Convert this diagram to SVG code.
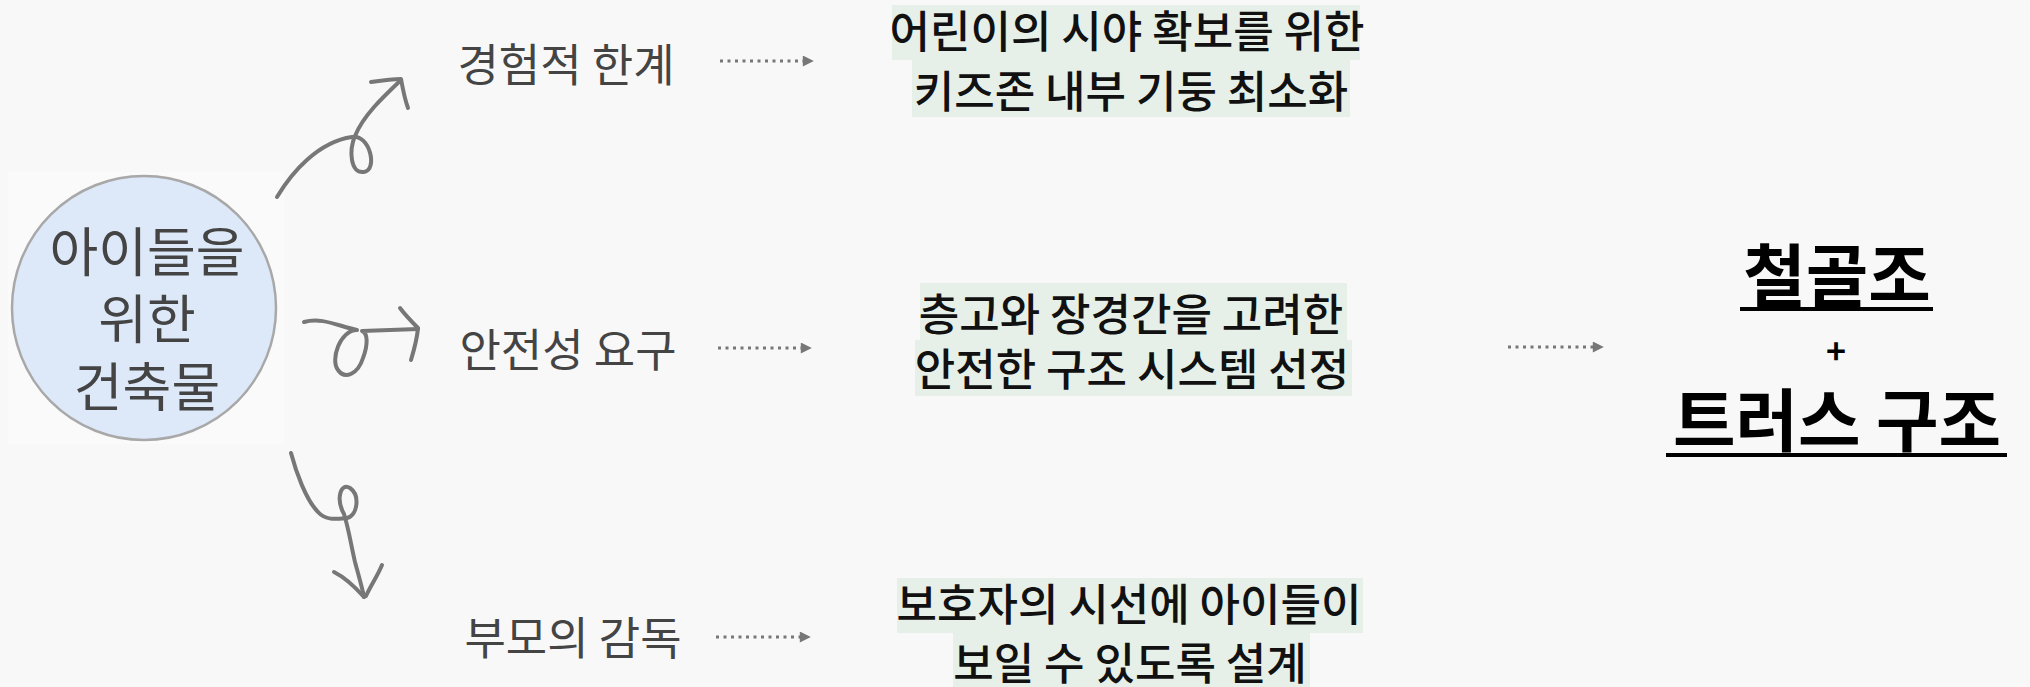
<svg xmlns="http://www.w3.org/2000/svg" width="2030" height="687" viewBox="0 0 2030 687">
<defs>
<style>
.lbl{font-family:"Noto Sans CJK KR","Noto Sans",sans-serif;font-size:45px;fill:#444;text-anchor:middle}
.mid{font-family:"Noto Sans CJK KR","Noto Sans",sans-serif;font-size:44px;font-weight:500;fill:#111;text-anchor:middle}
.res{font-family:"Noto Sans CJK KR","Noto Sans",sans-serif;font-weight:bold;fill:#000;text-anchor:middle}
.hl{fill:#e6f0e8}
.sk{fill:none;stroke:#777;stroke-width:4;stroke-linecap:round;stroke-linejoin:round}
.dot{fill:none;stroke:#777;stroke-width:3;stroke-dasharray:3 4.5}
</style>
<marker id="tri" viewBox="0 0 10 10" refX="2" refY="5" markerWidth="13" markerHeight="11" markerUnits="userSpaceOnUse" orient="auto">
<path d="M0,0 L10,5 L0,10 Z" fill="#777"/>
</marker>
</defs>
<rect width="2030" height="687" fill="#f8f8f8"/>
<rect x="8" y="172" width="276" height="272" fill="#fafafa"/>

<g id="center-node">
<circle cx="144" cy="308" r="132" fill="#dde9f8" stroke="#a8a8a8" stroke-width="2.5"/>
<text x="147" y="272" class="lbl" style="font-size:53px">아이들을</text>
<text x="147" y="339" class="lbl" style="font-size:53px">위한</text>
<text x="147" y="407" class="lbl" style="font-size:53px">건축물</text>
</g>

<g id="label-experience"><text x="566" y="82" class="lbl">경험적 한계</text></g>
<g id="label-safety"><text x="568" y="367" class="lbl">안전성 요구</text></g>
<g id="label-parents"><text x="573" y="655" class="lbl">부모의 감독</text></g>

<g id="box-vision">
<rect x="892" y="5" width="468" height="55" class="hl"/>
<rect x="912" y="60" width="438" height="57" class="hl"/>
<text x="1127" y="48" class="mid">어린이의 시야 확보를 위한</text>
<text x="1131" y="108" class="mid">키즈존 내부 기둥 최소화</text>
</g>
<g id="box-structure">
<rect x="920" y="283" width="427" height="57" class="hl"/>
<rect x="915" y="340" width="437" height="56" class="hl"/>
<text x="1131" y="331" class="mid">층고와 장경간을 고려한</text>
<text x="1132" y="386" class="mid">안전한 구조 시스템 선정</text>
</g>
<g id="box-visibility">
<rect x="897" y="578" width="466" height="55" class="hl"/>
<rect x="953" y="633" width="357" height="54" class="hl"/>
<text x="1129" y="621" class="mid">보호자의 시선에 아이들이</text>
<text x="1130" y="680" class="mid">보일 수 있도록 설계</text>
</g>

<g id="result">
<text x="1837" y="301" class="res" style="font-size:68px">철골조</text>
<line x1="1740" y1="309" x2="1933" y2="309" stroke="#000" stroke-width="4"/>
<text x="1836" y="364" class="res" style="font-size:34px">+</text>
<text x="1837" y="446" class="res" style="font-size:68px">트러스 구조</text>
<line x1="1666" y1="455" x2="2007" y2="455" stroke="#000" stroke-width="4"/>
</g>

<g id="connectors">
<path class="sk" d="M277,197 C292,172 318,142 352,137 C370,134 378,170 364,172 C350,174 349,150 355,136 C363,116 382,98 401,80"/>
<path class="sk" d="M371,82 C385,80 393,79 401,79 C403,90 405,100 408,108"/>
<path class="sk" d="M304,322 C322,317 338,326 357,330 C340,330 330,360 338,370 C345,380 358,374 363,358 C368,345 368,333 362,331 L418,329"/>
<path class="sk" d="M400,308 C406,316 412,322 418,328 C417,340 414,350 411,360"/>
<path class="sk" d="M291,453 C296,472 306,500 318,512 C326,521 337,519 347,518 C358,515 360,495 350,488 C340,482 336,500 344,514 C349,530 351,545 355,562 C359,577 362,587 364,597"/>
<path class="sk" d="M334,572 C346,578 356,588 364,597 M382,565 C377,577 371,585 366,596"/>
<line class="dot" x1="720" y1="61" x2="805" y2="61" marker-end="url(#tri)"/>
<line class="dot" x1="718" y1="348" x2="803" y2="348" marker-end="url(#tri)"/>
<line class="dot" x1="716" y1="637" x2="802" y2="637" marker-end="url(#tri)"/>
<line class="dot" x1="1508" y1="347" x2="1595" y2="347" marker-end="url(#tri)"/>
</g>
</svg>
